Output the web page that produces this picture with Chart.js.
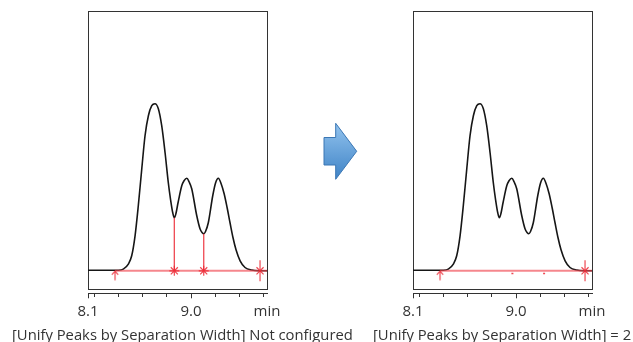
<!DOCTYPE html>
<html>
<head>
<meta charset="utf-8">
<script src="https://cdn.jsdelivr.net/npm/chart.js@4/dist/chart.umd.min.js"></script>
<style>
  body { margin: 0; background: #fff; }
  #wrap { position: relative; width: 633px; height: 342px; overflow: hidden; font-family: "Open Sans", sans-serif; }
  .panel { position: absolute; top: 0; }
  .caption { position: absolute; top: 324px; font-size: 14.8px; color: #333; white-space: nowrap; }
  #arrow { position: absolute; left: 0; top: 0; }
</style>
</head>
<body>
<div id="wrap">
  <canvas id="chartBefore" class="panel" width="316" height="326" style="left:0"></canvas>
  <canvas id="chartAfter" class="panel" width="316" height="326" style="left:325px"></canvas>
  <svg id="arrow" width="633" height="342">
    <defs>
      <linearGradient id="blue" x1="0" y1="0" x2="0" y2="1">
        <stop offset="0" stop-color="#92c3ee"/>
        <stop offset="1" stop-color="#3f83c6"/>
      </linearGradient>
    </defs>
    <polygon points="324,137.5 335.7,137.5 335.7,123.3 356.7,151.3 335.7,179.3 335.7,165 324,165"
             fill="url(#blue)" stroke="#3b77b4" stroke-width="1"/>
  </svg>
  <div class="caption" style="left:12px">[Unify Peaks by Separation Width] Not configured</div>
  <div class="caption" style="left:373px">[Unify Peaks by Separation Width] = 2</div>
</div>
<script>
// retention time (min) and detector signal
const times = [8.142, 8.242, 8.325, 8.392, 8.436, 8.478, 8.506, 8.534, 8.561, 8.590,
               8.617, 8.645, 8.673, 8.700, 8.728, 8.756, 8.784, 8.811, 8.830, 8.848,
               8.861, 8.874, 8.892, 8.923, 8.942, 8.965, 8.984, 9.006, 9.048, 9.075,
               9.094, 9.106, 9.120, 9.144, 9.181, 9.205, 9.228, 9.251, 9.276, 9.301,
               9.325, 9.350, 9.375, 9.409, 9.450, 9.506, 9.561, 9.633];
const signal = [0.5, 0.5, 0.5, 0.6, 1.7, 6.7, 15, 35, 65, 102,
                135, 155, 165, 167, 162, 145, 118, 88, 71, 58,
                53, 57, 68, 85, 90, 92.5, 89, 82, 55, 42,
                38, 37, 39, 48, 75, 88, 92.5, 87, 77, 63,
                48, 33, 21, 10, 3.3, 0.7, 0, 0];

// peak start / end and split points
const startTime = 8.367;
const endTime = 9.575;
const valleyTimes = [8.861, 9.106];
const valleySignal = [53, 37];
const apexDots = [8.970, 9.234];

// axis
const xMin = 8.142, xMax = 9.633;
const yMin = -19, yMax = 259;
const tickValues = [8.142, 8.2, 8.4, 8.6, 8.8, 9.0, 9.2, 9.4, 9.6, 9.633];
const tickLabels = ["8.1", "", "", "", "", "9.0", "", "", "", "min"];

const RED = "rgba(236,40,52,0.85)";
const BASE_RED = "rgba(240,70,80,0.65)";
const INK = "#333";

function makeArrowMark() {
    const c = document.createElement("canvas");
    c.width = 12; c.height = 24;
    const g = c.getContext("2d");
    g.strokeStyle = RED;
    g.lineWidth = 1.2;
    g.beginPath();
    g.moveTo(6, 12); g.lineTo(6, 21.5);
    g.moveTo(2.8, 15.8); g.lineTo(6, 12.3); g.lineTo(9.2, 15.8);
    g.stroke();
    return c;
}
const arrowMark = makeArrowMark();

function boxAxis(position) {
    return {
        type: "linear", position: position,
        ticks: { display: false },
        grid: { drawOnChartArea: false, drawTicks: false },
        border: { color: INK, width: 1 }
    };
}

function makeChart(id, split) {
    const datasets = [
        {
            label: "signal",
            data: times.map((t, i) => ({ x: t, y: signal[i] })),
            showLine: true, borderColor: "#161616", borderWidth: 1.6,
            pointRadius: 0, cubicInterpolationMode: "monotone", order: 6
        },
        {
            label: "baseline",
            data: [{ x: startTime, y: 0 }, { x: xMax, y: 0 }],
            showLine: true, borderColor: BASE_RED, borderWidth: 2,
            pointRadius: 0, order: 5
        },
        {
            label: "start",
            data: [{ x: startTime, y: 0 }],
            pointStyle: arrowMark, order: 1
        },
        {
            label: "end",
            data: [{ x: endTime, y: 0 }],
            pointStyle: "line", rotation: 90, pointRadius: 10.5,
            borderColor: RED, borderWidth: 1.2, order: 1
        },
        {
            label: "end x",
            data: [{ x: endTime, y: 0 }],
            pointStyle: "crossRot", pointRadius: 5,
            borderColor: RED, borderWidth: 1.2, order: 1
        }
    ];
    if (split) {
        datasets.push({
            label: "drop lines",
            data: valleyTimes.flatMap((t, i) => [{ x: t, y: valleySignal[i] }, { x: t, y: 0 }, { x: t + 0.01, y: null }]),
            showLine: true, spanGaps: false, borderColor: RED, borderWidth: 1.3,
            pointRadius: 0, order: 3
        });
        datasets.push({
            label: "split marks",
            data: valleyTimes.map(t => ({ x: t, y: 0 })),
            pointStyle: "star", pointRadius: 5,
            borderColor: RED, borderWidth: 1.2, order: 1
        });
    } else {
        datasets.push({
            label: "apex",
            data: apexDots.map(t => ({ x: t, y: -2.7 })),
            pointStyle: "line", pointRadius: 1,
            borderColor: RED, borderWidth: 1.3, order: 1
        });
    }
    datasets.forEach(d => { d.xAxisID = "x"; d.yAxisID = "y"; });

    return new Chart(document.getElementById(id), {
        type: "scatter",
        data: { datasets: datasets },
        options: {
            responsive: false,
            animation: false,
            events: [],
            layout: { padding: { left: 88, top: 11, right: 49, bottom: 1.7 } },
            plugins: { legend: { display: false }, tooltip: { enabled: false } },
            scales: {
                x: {
                    type: "linear", position: "bottom", weight: 2,
                    min: xMin, max: xMax,
                    afterBuildTicks: s => { s.ticks = tickValues.map(v => ({ value: v })); },
                    ticks: {
                        autoSkip: false, maxRotation: 0, padding: 4, color: INK,
                        font: { family: "Open Sans", size: 15 },
                        callback: (v, i) => tickLabels[i]
                    },
                    grid: {
                        drawOnChartArea: false, tickLength: 5, tickWidth: 1,
                        tickColor: c => tickLabels[c.index] === "min" ? "rgba(0,0,0,0)" : INK,
                        tickBorderDash: c => tickLabels[c.index] === "" ? [3, 20] : []
                    },
                    border: { color: INK, width: 1 }
                },
                xBox: {
                    type: "linear", position: "bottom", weight: 1,
                    ticks: { display: false },
                    grid: { drawOnChartArea: false, tickLength: 3.5, tickColor: "rgba(0,0,0,0)" },
                    border: { color: INK, width: 1 }
                },
                xTop: boxAxis("top"),
                y: Object.assign(boxAxis("left"), { min: yMin, max: yMax }),
                yRight: boxAxis("right")
            }
        }
    });
}

makeChart("chartBefore", true);
makeChart("chartAfter", false);
</script>
</body>
</html>
